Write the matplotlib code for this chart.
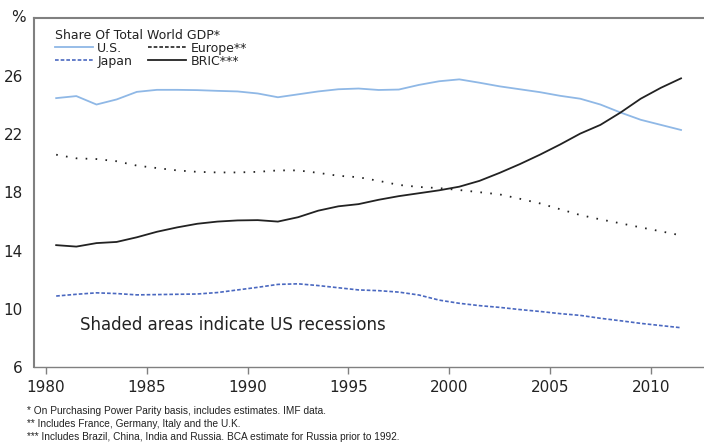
import matplotlib
matplotlib.use("Agg")
import matplotlib.pyplot as plt
from matplotlib.lines import Line2D
import numpy as np

# share of total world GDP, %, annual
years = np.arange(1980, 2012)

us = [24.49, 24.63, 24.05, 24.40, 24.92, 25.06, 25.06, 25.04, 24.99, 24.95,
      24.81, 24.55, 24.75, 24.95, 25.10, 25.15, 25.05, 25.08, 25.40, 25.65,
      25.78, 25.55, 25.30, 25.10, 24.90, 24.65, 24.45, 24.05, 23.50, 23.00,
      22.65, 22.30]

europe = [20.60, 20.35, 20.30, 20.15, 19.85, 19.68, 19.52, 19.42, 19.38, 19.38,
          19.42, 19.52, 19.52, 19.35, 19.15, 19.05, 18.80, 18.52, 18.38, 18.30,
          18.17, 18.02, 17.87, 17.57, 17.25, 16.85, 16.45, 16.15, 15.88, 15.60,
          15.33, 15.05]

japan = [10.88, 11.00, 11.10, 11.05, 10.96, 10.98, 11.00, 11.02, 11.12, 11.30,
         11.48, 11.68, 11.72, 11.60, 11.45, 11.30, 11.25, 11.15, 10.95, 10.60,
         10.38, 10.22, 10.10, 9.95, 9.82, 9.67, 9.55, 9.35, 9.18, 9.00,
         8.85, 8.70]

bric = [14.38, 14.28, 14.52, 14.60, 14.92, 15.30, 15.60, 15.85, 16.00, 16.08,
        16.10, 16.00, 16.30, 16.75, 17.05, 17.20, 17.50, 17.75, 17.95, 18.15,
        18.40, 18.80, 19.35, 19.95, 20.60, 21.30, 22.05, 22.65, 23.50, 24.45,
        25.20, 25.85]

xticks = [1980, 1985, 1990, 1995, 2000, 2005, 2010]
yticks = [6, 10, 14, 18, 22, 26]

footnotes = ["* On Purchasing Power Parity basis, includes estimates. IMF data.",
             "** Includes France, Germany, Italy and the U.K.",
             "*** Includes Brazil, China, India and Russia. BCA estimate for Russia prior to 1992."]

c_us, c_jp, c_eu, c_bric = '#8fb8e6', '#4a68c0', '#222222', '#222222'
c_axis, c_text = '#808080', '#222222'

fig = plt.figure(figsize=(7.04, 4.45), dpi=100)
ax = fig.add_axes([34 / 704, 78 / 445, 670 / 704, 349 / 445])

# annual values plotted at mid-year
x = years + 0.5
ax.plot(x, us, color=c_us, lw=1.3)
ax.plot(x, japan, color=c_jp, lw=1.2, dashes=(2.2, 1.2))
ax.plot(x, europe, color=c_eu, lw=1.3, dashes=(0.9, 4.6))
ax.plot(x, bric, color=c_bric, lw=1.3)

ax.set_xlim(1979.4, 2012.64)
ax.set_ylim(6, 30)
ax.set_xticks(xticks)
ax.set_yticks(yticks)
ax.tick_params(axis='x', direction='out', length=5, width=1, color=c_axis,
               labelsize=11, labelcolor=c_text, pad=4)
ax.tick_params(axis='y', length=0, labelsize=11, labelcolor=c_text, pad=8)

for side in ['left', 'top', 'bottom']:
    ax.spines[side].set_color(c_axis)
ax.spines['left'].set_linewidth(1.5)
ax.spines['top'].set_linewidth(1.5)
ax.spines['bottom'].set_linewidth(1.0)
ax.spines['right'].set_visible(False)

ax.text(-0.013, 1.0, '%', transform=ax.transAxes, ha='right', va='center',
        fontsize=11, color=c_text)

handles = [Line2D([], [], color=c_us, lw=1.3),
           Line2D([], [], color=c_jp, lw=1.2, dashes=(2.2, 1.2)),
           Line2D([], [], color=c_eu, lw=1.2, dashes=(2.2, 1.2)),
           Line2D([], [], color=c_bric, lw=1.3)]
labels = ['U.S.', 'Japan', 'Europe**', 'BRIC***']
leg = ax.legend(handles, labels, ncol=2, loc='upper left',
                bbox_to_anchor=(0.019, 0.994), frameon=False,
                title='Share Of Total World GDP*', title_fontsize=9,
                alignment='left', fontsize=9, handlelength=3.0,
                handletextpad=0.35, columnspacing=1.3, labelspacing=0.0,
                borderpad=0.2)
leg.get_title().set_color(c_text)
for t in leg.get_texts():
    t.set_color(c_text)

ax.text(0.068, 0.12, 'Shaded areas indicate US recessions', transform=ax.transAxes,
        ha='left', va='center', fontsize=12, color=c_text)

for i, note in enumerate(footnotes):
    fig.text(27 / 704, 1 - (411 + 13 * i) / 445, note, ha='left', va='center',
             fontsize=7.3, family='Liberation Sans', color=c_text)

fig.savefig('out.png', dpi=100, facecolor='white')
